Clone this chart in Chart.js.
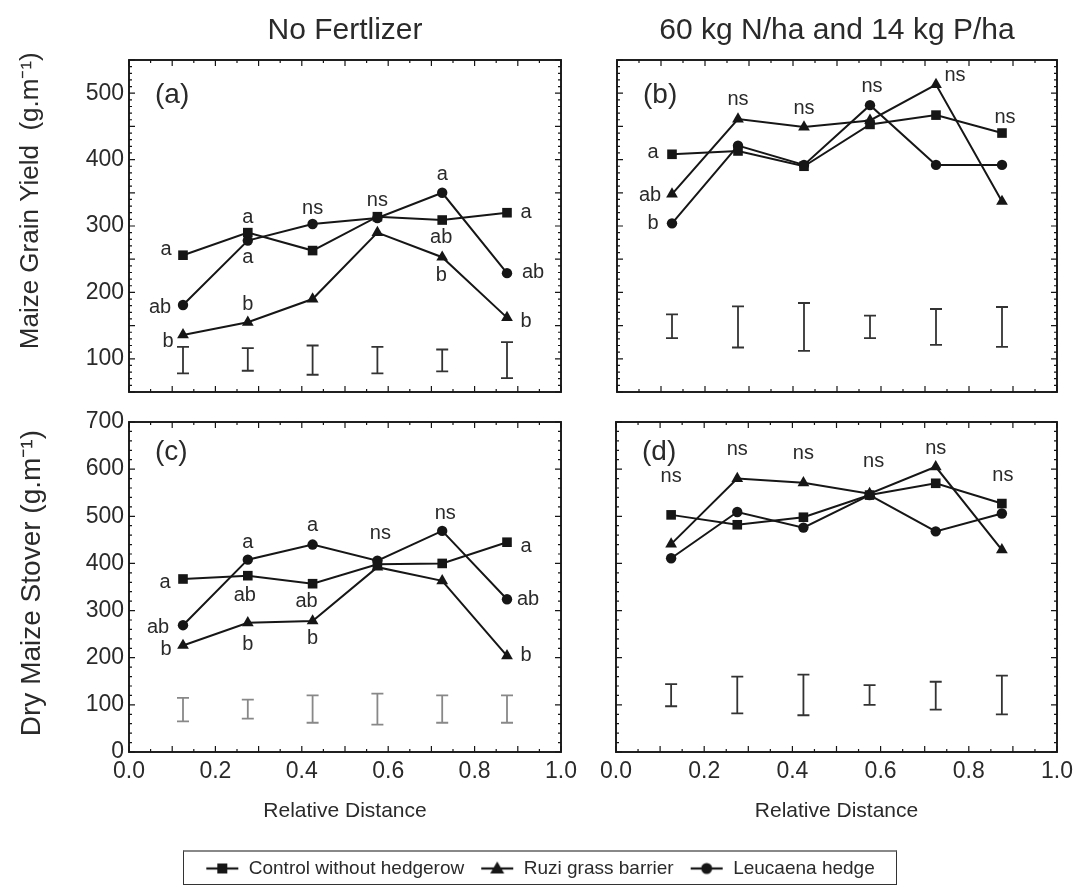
<!DOCTYPE html>
<html>
<head>
<meta charset="utf-8">
<script src="https://cdn.jsdelivr.net/npm/chart.js@4.4.1/dist/chart.umd.min.js"></script>
<style>
body { margin: 0; background: #fff; }
#wrap { position: relative; width: 1074px; height: 895px; overflow: hidden; }
.pane { position: absolute; }
#legendFrame { position: absolute; left: 183px; top: 850px; width: 712px; height: 32px; border: 1px solid #333; border-top: 2px solid #888; }
</style>
</head>
<body>
<div id="wrap">
  <div id="legendFrame"></div>
  <div class="pane" style="left:0;top:0;width:575px;height:400px"><canvas id="chartA"></canvas></div>
  <div class="pane" style="left:575px;top:0;width:499px;height:400px"><canvas id="chartB"></canvas></div>
  <div class="pane" style="left:0;top:400px;width:590px;height:430px"><canvas id="chartC"></canvas></div>
  <div class="pane" style="left:590px;top:400px;width:484px;height:430px"><canvas id="chartD"></canvas></div>
  <div class="pane" style="left:183px;top:843px;width:714px;height:90px"><canvas id="legendChart"></canvas></div>
</div>
<script>
// data
const relDist = [0.125, 0.275, 0.425, 0.575, 0.725, 0.875];
const seriesNames = ['Control without hedgerow', 'Ruzi grass barrier', 'Leucaena hedge'];
const xTickLabels = [0, 0.2, 0.4, 0.6, 0.8, 1.0];
const grainTicks = [100, 200, 300, 400, 500];
const stoverTicks = [0, 100, 200, 300, 400, 500, 600, 700];

// (a) grain, no fertilizer
const grainNoFertControl = [256, 290, 263, 314, 309, 320];
const grainNoFertRuzi = [136, 155, 190, 290, 253, 162];
const grainNoFertLeucaena = [181, 278, 303, 312, 350, 229];
const grainNoFertLsdLow = [78, 82, 76, 78, 81, 71];
const grainNoFertLsdHigh = [118, 116, 120, 118, 114, 125];

// (b) grain, fertilized
const grainFertControl = [408, 413, 390, 453, 467, 440];
const grainFertRuzi = [348, 461, 449, 459, 513, 337];
const grainFertLeucaena = [304, 421, 392, 482, 392, 392];
const grainFertLsdLow = [131, 117, 112, 131, 121, 118];
const grainFertLsdHigh = [167, 179, 184, 165, 175, 178];

// (c) stover, no fertilizer
const stoverNoFertControl = [367, 374, 357, 398, 400, 445];
const stoverNoFertRuzi = [226, 274, 278, 392, 363, 204];
const stoverNoFertLeucaena = [269, 408, 440, 406, 469, 324];
const stoverNoFertLsdLow = [65, 71, 62, 58, 62, 62];
const stoverNoFertLsdHigh = [115, 111, 120, 124, 120, 120];

// (d) stover, fertilized
const stoverFertControl = [503, 482, 498, 545, 570, 527];
const stoverFertRuzi = [441, 580, 571, 548, 605, 429];
const stoverFertLeucaena = [411, 509, 476, 545, 468, 506];
const stoverFertLsdLow = [97, 82, 78, 100, 90, 80];
const stoverFertLsdHigh = [144, 160, 164, 142, 149, 162];

// significance letters: [series, point, text]
const lettersA = [[0,0,'a'],[2,0,'ab'],[1,0,'b'],[0,1,'a'],[2,1,'a'],[1,1,'b'],[2,2,'ns'],[0,3,'ns'],
                  [2,4,'a'],[0,4,'ab'],[1,4,'b'],[0,5,'a'],[2,5,'ab'],[1,5,'b']];
const lettersB = [[0,0,'a'],[1,0,'ab'],[2,0,'b'],[1,1,'ns'],[1,2,'ns'],[2,3,'ns'],[1,4,'ns'],[0,5,'ns']];
const lettersC = [[0,0,'a'],[2,0,'ab'],[1,0,'b'],[2,1,'a'],[0,1,'ab'],[1,1,'b'],[2,2,'a'],[0,2,'ab'],
                  [1,2,'b'],[2,3,'ns'],[2,4,'ns'],[0,5,'a'],[2,5,'ab'],[1,5,'b']];
const lettersD = [[0,0,'ns'],[1,1,'ns'],[1,2,'ns'],[1,3,'ns'],[1,4,'ns'],[0,5,'ns']];

// pixel offsets of the letters from their points (layout only)
const offsetsA = [[-17,-6],[-23,2],[-15,7],[0,-15],[0,17],[0,-18],[0,-16],[0,-16],
                  [0,-18],[-1,17],[-1,18],[19,0],[26,-1],[19,4]];
const offsetsB = [[-19,-2],[-22,1],[-19,0],[0,-20],[0,-19],[2,-19],[19,-9],[3,-16]];
const offsetsC = [[-18,3],[-25,2],[-17,4],[0,-17],[-3,20],[0,22],[0,-19],[-6,18],
                  [0,18],[3,-27],[3,-17],[19,4],[21,0],[19,0]];
const offsetsD = [[0,-38],[0,-29],[0,-29],[4,-32],[0,-18],[1,-28]];

const FONT = "'Liberation Sans', Arial, sans-serif";
const INK = '#161616';
const TEXT = '#2a2a2a';
const markerStyles = ['rect', 'triangle', 'circle'];
const markerRadius = [6.8, 6.8, 5.2];

Chart.defaults.font.family = FONT;
Chart.defaults.color = TEXT;

const panels = {
    a: { values: [grainNoFertControl, grainNoFertRuzi, grainNoFertLeucaena], low: grainNoFertLsdLow, high: grainNoFertLsdHigh,
         letters: lettersA, offsets: offsetsA, tag: '(a)', tagDy: 35, barColor: '#333', minor: 10, major: 50 },
    b: { values: [grainFertControl, grainFertRuzi, grainFertLeucaena], low: grainFertLsdLow, high: grainFertLsdHigh,
         letters: lettersB, offsets: offsetsB, tag: '(b)', tagDy: 35, barColor: '#333', minor: 10, major: 50 },
    c: { values: [stoverNoFertControl, stoverNoFertRuzi, stoverNoFertLeucaena], low: stoverNoFertLsdLow, high: stoverNoFertLsdHigh,
         letters: lettersC, offsets: offsetsC, tag: '(c)', tagDy: 30, barColor: '#888', minor: 20, major: 100 },
    d: { values: [stoverFertControl, stoverFertRuzi, stoverFertLeucaena], low: stoverFertLsdLow, high: stoverFertLsdHigh,
         letters: lettersD, offsets: offsetsD, tag: '(d)', tagDy: 30, barColor: '#333', minor: 20, major: 100 }
};

// frame, inward ticks, LSD bars, letters and panel tag
const decorPlugin = {
    id: 'decor',
    afterDatasetsDraw(chart, args, opts) {
        const p = panels[opts.key];
        const {ctx, chartArea: a, scales: {x, y}} = chart;
        ctx.save();

        // LSD bars
        ctx.strokeStyle = p.barColor;
        ctx.lineWidth = 1.8;
        relDist.forEach((d, i) => {
            const px = x.getPixelForValue(d);
            const top = y.getPixelForValue(p.high[i]);
            const bot = y.getPixelForValue(p.low[i]);
            ctx.beginPath();
            ctx.moveTo(px, top); ctx.lineTo(px, bot);
            ctx.moveTo(px - 6, top); ctx.lineTo(px + 6, top);
            ctx.moveTo(px - 6, bot); ctx.lineTo(px + 6, bot);
            ctx.stroke();
        });

        // frame
        ctx.strokeStyle = INK;
        ctx.lineWidth = 1.9;
        ctx.strokeRect(a.left, a.top, a.right - a.left, a.bottom - a.top);

        // ticks
        ctx.lineWidth = 1.2;
        ctx.beginPath();
        for (let i = 0; i <= 20; i++) {
            const px = x.getPixelForValue(i * 0.05);
            const len = i % 2 === 0 ? 6 : 3;
            ctx.moveTo(px, a.bottom); ctx.lineTo(px, a.bottom - len);
            ctx.moveTo(px, a.top); ctx.lineTo(px, a.top + len);
        }
        for (let v = y.min; v <= y.max; v += p.minor) {
            const py = y.getPixelForValue(v);
            const len = v % p.major === 0 ? 6 : 3;
            ctx.moveTo(a.left, py); ctx.lineTo(a.left + len, py);
            ctx.moveTo(a.right, py); ctx.lineTo(a.right - len, py);
        }
        ctx.stroke();

        // significance letters
        ctx.fillStyle = TEXT;
        ctx.font = '20px ' + FONT;
        ctx.textAlign = 'center';
        ctx.textBaseline = 'middle';
        p.letters.forEach((l, k) => {
            const px = x.getPixelForValue(relDist[l[1]]) + p.offsets[k][0];
            const py = y.getPixelForValue(p.values[l[0]][l[1]]) + p.offsets[k][1];
            ctx.fillText(l[2], px, py);
        });

        // panel tag
        ctx.font = '28px ' + FONT;
        ctx.textAlign = 'left';
        ctx.fillText(p.tag, a.left + 26, a.top + p.tagDy);
        ctx.restore();
    }
};

function makePanel(canvasId, key, cfg) {
    const p = panels[key];
    return new Chart(document.getElementById(canvasId), {
        type: 'line',
        data: {
            datasets: seriesNames.map((name, k) => ({
                label: name,
                data: relDist.map((d, i) => ({x: d, y: p.values[k][i]})),
                borderColor: INK,
                backgroundColor: INK,
                borderWidth: 2,
                pointStyle: markerStyles[k],
                pointRadius: markerRadius[k],
                pointBorderWidth: 0,
                tension: 0
            }))
        },
        options: {
            animation: false,
            responsive: true,
            maintainAspectRatio: false,
            layout: { padding: cfg.padding },
            scales: {
                x: {
                    type: 'linear', min: 0, max: 1,
                    display: cfg.showX,
                    grid: { display: false, drawTicks: false },
                    border: { display: false },
                    afterBuildTicks: s => { s.ticks = xTickLabels.map(v => ({value: v})); },
                    afterFit: s => { if (cfg.showX) s.height = 78; s.paddingLeft = 0; s.paddingRight = 0; },
                    ticks: { font: { size: 23 }, color: TEXT, padding: 6, maxRotation: 0, callback: v => v.toFixed(1) },
                    title: { display: true, text: 'Relative Distance', font: { size: 21 }, color: TEXT, padding: { top: 0, bottom: 6 } }
                },
                y: {
                    type: 'linear', min: cfg.yMin, max: cfg.yMax,
                    display: cfg.showY,
                    grid: { display: false, drawTicks: false },
                    border: { display: false },
                    afterBuildTicks: s => { s.ticks = cfg.yTicks.map(v => ({value: v})); },
                    afterFit: s => { if (cfg.showY) s.width = 129; s.paddingTop = 0; s.paddingBottom = 0; },
                    ticks: { font: { size: 23 }, color: TEXT, padding: 5 },
                    title: { display: true, text: cfg.yTitle, font: { size: cfg.yTitleSize }, color: TEXT, padding: { top: 15, bottom: 0 } }
                }
            },
            plugins: {
                legend: { display: false },
                tooltip: { enabled: false },
                title: cfg.title ? { display: true, text: cfg.title, fullSize: false, font: { size: 30, weight: 'normal' },
                                     color: TEXT, padding: { top: 13, bottom: 11 } } : { display: false },
                decor: { key: key }
            }
        },
        plugins: [decorPlugin]
    });
}

// leading no-break spaces push the titles up the axis, as in the figure
const grainTitle = '\u00A0\u00A0\u00A0\u00A0\u00A0\u00A0\u00A0Maize Grain Yield  (g.m\u207B\u00B9)';
const stoverTitle = '\u00A0Dry Maize Stover (g.m\u207B\u00B9)';

makePanel('chartA', 'a', { padding: {top: 0, left: 0, right: 14, bottom: 8}, showX: false, showY: true,
    yMin: 50, yMax: 550, yTicks: grainTicks, yTitle: grainTitle, yTitleSize: 26, title: 'No Fertlizer' });
makePanel('chartB', 'b', { padding: {top: 0, left: 42, right: 17, bottom: 8}, showX: false, showY: false,
    yMin: 50, yMax: 550, yTicks: grainTicks, yTitle: grainTitle, yTitleSize: 26, title: '60 kg N/ha and 14 kg P/ha' });
makePanel('chartC', 'c', { padding: {top: 22, left: 0, right: 29, bottom: 0}, showX: true, showY: true,
    yMin: 0, yMax: 700, yTicks: stoverTicks, yTitle: stoverTitle, yTitleSize: 28 });
makePanel('chartD', 'd', { padding: {top: 22, left: 26, right: 17, bottom: 0}, showX: true, showY: false,
    yMin: 0, yMax: 700, yTicks: stoverTicks, yTitle: stoverTitle, yTitleSize: 28 });

// legend icons: short line with the series marker
function legendIcon(k) {
    const c = document.createElement('canvas');
    c.width = 34; c.height = 16;
    const g = c.getContext('2d');
    g.fillStyle = INK; g.strokeStyle = INK; g.lineWidth = 2.2;
    g.beginPath(); g.moveTo(1, 8); g.lineTo(33, 8); g.stroke();
    g.beginPath();
    if (k === 0) g.rect(12, 3, 10, 10);
    else if (k === 1) { g.moveTo(17, 1); g.lineTo(24, 13); g.lineTo(10, 13); g.closePath(); }
    else g.arc(17, 8, 5.5, 0, Math.PI * 2);
    g.fill();
    return c;
}
const legendIcons = [0, 1, 2].map(legendIcon);

new Chart(document.getElementById('legendChart'), {
    type: 'line',
    data: { datasets: seriesNames.map((name, k) => ({ label: name, data: [], borderColor: INK, pointStyle: legendIcons[k] })) },
    options: {
        animation: false,
        responsive: true,
        maintainAspectRatio: false,
        layout: { padding: 0 },
        scales: { x: { display: false }, y: { display: false } },
        plugins: {
            tooltip: { enabled: false },
            legend: {
                display: true, position: 'top',
                labels: {
                    usePointStyle: true, pointStyleWidth: 34, boxHeight: 16, padding: 16,
                    color: TEXT, font: { size: 19 },
                    generateLabels: chart => chart.data.datasets.map((ds, k) => ({
                        text: ds.label, pointStyle: legendIcons[k], fillStyle: INK, strokeStyle: INK,
                        lineWidth: 0, hidden: false, datasetIndex: k, fontColor: TEXT
                    }))
                }
            }
        }
    }
});
</script>
</body>
</html>
